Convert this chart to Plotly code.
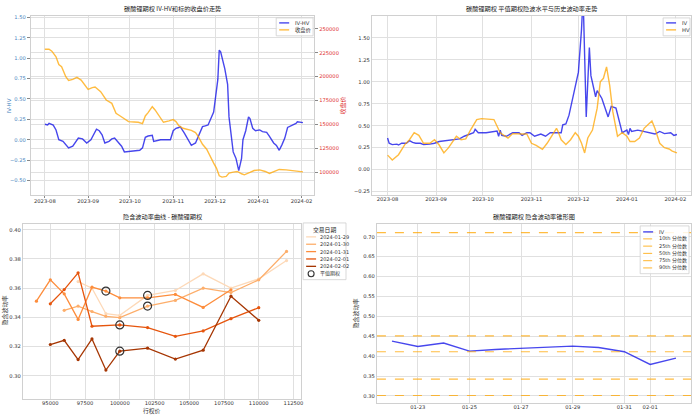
import plotly.graph_objects as go

# ---------------- data ----------------
# Top-left: IV-HV and close price
ivhv_dates = ["2023-08-01","2023-08-03","2023-08-04","2023-08-07","2023-08-09","2023-08-11","2023-08-14","2023-08-16",
              "2023-08-18","2023-08-21","2023-08-23","2023-08-25","2023-08-28","2023-08-31","2023-09-03","2023-09-05",
              "2023-09-07","2023-09-09","2023-09-11","2023-09-13","2023-09-16","2023-09-18","2023-09-20","2023-09-23",
              "2023-09-25","2023-09-27","2023-09-29","2023-10-04","2023-10-08","2023-10-10","2023-10-12","2023-10-14",
              "2023-10-17","2023-10-18","2023-10-20","2023-10-23","2023-10-26","2023-10-30","2023-11-01","2023-11-03",
              "2023-11-05","2023-11-06","2023-11-09","2023-11-11","2023-11-14","2023-11-17","2023-11-19","2023-11-22",
              "2023-11-24","2023-11-26","2023-11-30","2023-12-02","2023-12-03","2023-12-04","2023-12-05","2023-12-08",
              "2023-12-10","2023-12-11","2023-12-14","2023-12-16","2023-12-18","2023-12-20","2023-12-21","2023-12-23",
              "2023-12-25","2023-12-26","2023-12-28","2023-12-30","2024-01-02","2024-01-04","2024-01-07","2024-01-09",
              "2024-01-12","2024-01-14","2024-01-16","2024-01-18","2024-01-20","2024-01-22","2024-01-26","2024-01-28",
              "2024-01-29","2024-02-01","2024-02-02"]
ivhv_values = [0.19,0.18,0.20,0.18,0.12,0.00,-0.02,-0.06,
               -0.10,-0.08,-0.03,0.02,0.01,-0.04,0.00,0.06,
               0.13,0.11,0.06,-0.04,-0.02,0.01,0.02,-0.04,
               -0.08,-0.15,-0.145,-0.14,-0.13,-0.10,0.03,0.045,
               0.055,-0.02,-0.01,0.00,0.00,0.00,0.11,0.14,
               0.15,0.16,0.08,0.02,-0.07,-0.04,0.04,0.16,
               0.17,0.18,0.34,0.58,0.74,1.10,1.08,0.87,
               0.68,0.28,-0.15,-0.23,-0.38,-0.23,0.00,0.11,
               0.28,0.26,0.14,0.11,0.12,0.10,0.09,0.04,
               -0.04,-0.07,-0.13,-0.06,0.02,0.15,0.18,0.20,
               0.22,0.21,0.21]

close_dates = ["2023-08-01","2023-08-04","2023-08-06","2023-08-09","2023-08-11","2023-08-13","2023-08-16","2023-08-18",
               "2023-08-21","2023-08-24","2023-08-27","2023-08-29","2023-09-01","2023-09-04","2023-09-06","2023-09-10",
               "2023-09-12","2023-09-14","2023-09-18","2023-09-21","2023-09-24","2023-09-28","2023-09-30","2023-10-04",
               "2023-10-07","2023-10-10","2023-10-12","2023-10-14","2023-10-17","2023-10-19","2023-10-22","2023-10-25",
               "2023-10-29","2023-11-01","2023-11-03","2023-11-05","2023-11-08","2023-11-11","2023-11-14","2023-11-17",
               "2023-11-19","2023-11-22","2023-11-25","2023-11-30","2023-12-02","2023-12-04","2023-12-06","2023-12-09",
               "2023-12-11","2023-12-14","2023-12-17","2023-12-20","2023-12-22","2023-12-26","2023-12-29","2024-01-02",
               "2024-01-06","2024-01-09","2024-01-13","2024-01-16","2024-01-21","2024-01-26","2024-01-29","2024-02-01",
               "2024-02-02"]
close_values = [228700,228700,226600,220700,212700,210300,199900,196000,
                197100,199200,196400,192200,186600,188400,189100,184200,
                179700,175500,172000,161600,158800,154300,152900,152500,
                152200,150800,158800,162300,168500,165100,158100,152200,
                153600,155000,152900,148700,145900,145200,143800,141400,
                137200,129200,124000,109400,104200,96200,94800,95500,
                99000,100000,100700,98300,97200,99700,101700,102400,
                100700,98600,101400,102800,102400,101700,101400,100300,
                100300]

# Top-right: ATM IV and HV
iv_dates = ["2023-08-01","2023-08-02","2023-08-04","2023-08-07","2023-08-08","2023-08-10","2023-08-13","2023-08-15",
            "2023-08-17","2023-08-19","2023-08-22","2023-08-24","2023-08-28","2023-08-31","2023-09-03","2023-09-07",
            "2023-09-11","2023-09-16","2023-09-19","2023-09-22","2023-09-25","2023-09-26","2023-09-28","2023-10-03",
            "2023-10-07","2023-10-10","2023-10-11","2023-10-12","2023-10-13","2023-10-16","2023-10-20","2023-10-24",
            "2023-10-26","2023-10-29","2023-10-31","2023-11-03","2023-11-07","2023-11-10","2023-11-13","2023-11-16",
            "2023-11-20","2023-11-21","2023-11-23","2023-11-25","2023-11-28","2023-12-01","2023-12-03","2023-12-04",
            "2023-12-06","2023-12-08","2023-12-09","2023-12-12","2023-12-13","2023-12-16","2023-12-20","2023-12-22",
            "2023-12-25","2023-12-29","2024-01-01","2024-01-02","2024-01-03","2024-01-04","2024-01-08","2024-01-12",
            "2024-01-17","2024-01-19","2024-01-22","2024-01-25","2024-01-29","2024-01-31","2024-02-02"]
iv_values = [0.36,0.30,0.285,0.29,0.28,0.30,0.30,0.33,
             0.31,0.30,0.30,0.285,0.29,0.30,0.32,0.33,
             0.335,0.35,0.38,0.40,0.42,0.46,0.42,0.42,
             0.435,0.44,0.38,0.45,0.39,0.38,0.42,0.42,
             0.39,0.42,0.42,0.38,0.405,0.38,0.42,0.42,
             0.42,0.51,0.52,0.62,0.85,1.11,1.60,1.98,
             0.60,1.39,1.07,0.83,0.90,0.81,0.60,0.72,
             0.70,0.42,0.45,0.40,0.47,0.435,0.45,0.435,
             0.42,0.405,0.435,0.41,0.42,0.39,0.40]

hv_dates = ["2023-08-01","2023-08-04","2023-08-08","2023-08-12","2023-08-15","2023-08-18","2023-08-21","2023-08-24",
            "2023-08-28","2023-08-31","2023-09-03","2023-09-06","2023-09-09","2023-09-14","2023-09-17","2023-09-20",
            "2023-09-23","2023-09-27","2023-09-30","2023-10-08","2023-10-12","2023-10-15","2023-10-17","2023-10-20",
            "2023-10-23","2023-10-26","2023-10-29","2023-11-01","2023-11-04","2023-11-08","2023-11-11","2023-11-14",
            "2023-11-17","2023-11-18","2023-11-20","2023-11-23","2023-11-26","2023-11-29","2023-12-01","2023-12-03",
            "2023-12-05","2023-12-07","2023-12-10","2023-12-13","2023-12-15","2023-12-17","2023-12-19","2023-12-21",
            "2023-12-23","2023-12-26","2023-12-29","2024-01-01","2024-01-03","2024-01-06","2024-01-09","2024-01-12",
            "2024-01-17","2024-01-19","2024-01-22","2024-01-25","2024-01-28","2024-01-30","2024-02-02"]
hv_values = [0.165,0.11,0.17,0.285,0.34,0.42,0.39,0.30,
             0.30,0.34,0.28,0.19,0.25,0.38,0.34,0.35,
             0.45,0.57,0.58,0.57,0.42,0.38,0.36,0.41,
             0.405,0.405,0.405,0.30,0.275,0.23,0.30,0.38,
             0.47,0.435,0.34,0.285,0.34,0.42,0.38,0.30,
             0.19,0.36,0.45,0.70,1.00,1.04,1.17,0.96,
             0.66,0.38,0.42,0.38,0.32,0.32,0.36,0.47,
             0.555,0.465,0.30,0.25,0.235,0.21,0.19]

# Bottom-left: smile curves
trade_dates = ["2024-01-29", "2024-01-30", "2024-01-31", "2024-02-01", "2024-02-02"]
smile_strikes = [
    [97000, 98000, 99000, 100000, 102000, 104000, 106000, 108000, 110000, 112000],
    [96000, 97000, 98000, 99000, 100000, 102000, 104000, 106000, 108000, 110000, 112000],
    [94000, 95000, 96000, 97000, 98000, 99000, 100000, 102000, 104000, 106000, 108000],
    [95000, 96000, 97000, 98000, 100000, 102000, 104000, 106000, 108000, 110000],
    [95000, 96000, 97000, 98000, 99000, 100000, 102000, 104000, 106000, 108000, 110000],
]
smile_ivs = [
    [0.3645, 0.360, 0.3425, 0.3414, 0.355, 0.3584, 0.3698, 0.360, 0.3664, 0.3789],
    [0.3448, 0.3477, 0.344, 0.3407, 0.3398, 0.3477, 0.3516, 0.360, 0.357, 0.3657, 0.3852],
    [0.3511, 0.3657, 0.3561, 0.3386, 0.3607, 0.358, 0.3534, 0.3534, 0.3557, 0.3468, 0.3589],
    [0.3493, 0.359, 0.3705, 0.3339, 0.3348, 0.333, 0.327, 0.3307, 0.3391, 0.3466],
    [0.3214, 0.3243, 0.3111, 0.3252, 0.3039, 0.3168, 0.3189, 0.3114, 0.3175, 0.3545, 0.338],
]
atm_strikes = [102000, 102000, 99000, 100000, 100000]
atm_label = "平值期权"
smile_colors = ["#fdd9b8", "#fdae6b", "#fd8d3c", "#e6550d", "#a63603"]

# Bottom-right: IV cone
cone_dates = ["2024-01-22", "2024-01-23", "2024-01-24", "2024-01-25", "2024-01-26",
              "2024-01-29", "2024-01-30", "2024-01-31", "2024-02-01", "2024-02-02"]
cone_iv = [0.4375, 0.424, 0.433, 0.4125, 0.4167, 0.425, 0.4217, 0.411, 0.379, 0.395]
pct_labels = ["10th 分位数", "25th 分位数", "50th 分位数", "75th 分位数", "90th 分位数"]
pct_values = [0.301, 0.342, 0.411, 0.451, 0.710]

# ---------------- style ----------------
W, H = 700, 419
FONT = "DejaVu Sans, Noto Sans CJK SC"
CJK = "Noto Sans CJK SC"
TICK = dict(family=FONT, size=5.2, color="#333333")
GRID = "#e0e0e0"
FRAME = "#d0d0d0"
BLUE = "rgba(0,0,230,0.72)"
ORANGE = "rgba(255,165,0,0.75)"


def px(x):
    return x / W


def py(y):
    return 1 - y / H


def axis_common(**kw):
    d = dict(showgrid=True, gridcolor=GRID, gridwidth=1, showline=True, linecolor=FRAME,
             linewidth=1, mirror=True, zeroline=False, tickfont=TICK, ticks="")
    d.update(kw)
    return d


fig = go.Figure()

# ---- top-left ----
fig.add_trace(go.Scatter(x=ivhv_dates, y=ivhv_values, mode="lines", name="IV-HV",
                         line=dict(color=BLUE, width=1.4), xaxis="x", yaxis="y"))
fig.add_trace(go.Scatter(x=close_dates, y=close_values, mode="lines", name="收盘价",
                         line=dict(color=ORANGE, width=1.4), xaxis="x", yaxis="y2"))

# ---- top-right ----
fig.add_trace(go.Scatter(x=iv_dates, y=iv_values, mode="lines", name="IV",
                         line=dict(color=BLUE, width=1.4), xaxis="x3", yaxis="y3"))
fig.add_trace(go.Scatter(x=hv_dates, y=hv_values, mode="lines", name="HV",
                         line=dict(color=ORANGE, width=1.4), xaxis="x3", yaxis="y3"))

# ---- bottom-left ----
atm_x, atm_y = [], []
for d, ks, vs, c, a in zip(trade_dates, smile_strikes, smile_ivs, smile_colors, atm_strikes):
    fig.add_trace(go.Scatter(x=ks, y=vs, mode="lines+markers", name=d,
                             line=dict(color=c, width=1.3), marker=dict(color=c, size=3.2),
                             xaxis="x4", yaxis="y4"))
    atm_x.append(a)
    atm_y.append(vs[ks.index(a)])
fig.add_trace(go.Scatter(x=atm_x, y=atm_y, mode="markers", name=atm_label,
                         marker=dict(symbol="circle-open", size=8, color="#333333", line=dict(width=1.2)),
                         xaxis="x4", yaxis="y4"))

# ---- bottom-right ----
cone_range = ["2024-01-21 10:00", "2024-02-02 14:00"]
fig.add_trace(go.Scatter(x=cone_dates, y=cone_iv, mode="lines", name="IV",
                         line=dict(color=BLUE, width=1.4), xaxis="x5", yaxis="y5"))
for lab, v in zip(pct_labels, pct_values):
    fig.add_trace(go.Scatter(x=cone_range, y=[v, v], mode="lines", name=lab,
                             line=dict(color=ORANGE, width=1.2, dash="dash"),
                             xaxis="x5", yaxis="y5"))

# ---------------- layout ----------------
TL_X = [px(31), px(315)]
TR_X = [px(373), px(693)]
TOP_Y = [py(194), py(14)]
BL_X = [px(23), px(302)]
BR_X = [px(378), px(693)]
BL_Y = [py(399), py(223)]
BR_Y = [py(403), py(223)]

XSTAND = -1

fig.update_layout(
    width=W, height=H, margin=dict(l=0, r=0, t=0, b=0),
    paper_bgcolor="white", plot_bgcolor="white", showlegend=False,
    font=dict(family=FONT, size=6, color="#333333"),
    xaxis=axis_common(domain=TL_X, anchor="y", type="date", ticks="outside", ticklen=2, tickcolor="#888888",
                      range=["2023-07-22", "2024-02-10"], dtick="M1", tickformat="%Y-%m",
                      ticklabelstandoff=XSTAND),
    yaxis=axis_common(domain=TOP_Y, anchor="x", range=[-0.68, 1.52],
                      tickvals=[-0.5, -0.25, 0, 0.25, 0.5, 0.75, 1.0, 1.25, 1.5],
                      ticks="outside", ticklen=3, tickcolor="#888888",
                      tickformat=".2f", tickfont=dict(family=FONT, size=5.2, color="#4a86c0")),
    yaxis2=axis_common(overlaying="y", side="right", anchor="x", range=[76000, 263500],
                       ticks="outside", ticklen=3, tickcolor="#888888",
                       tickvals=[100000, 125000, 150000, 175000, 200000, 225000, 250000], tickformat="d",
                       tickfont=dict(family=FONT, size=5.2, color="#e03030"), showline=False),
    xaxis3=axis_common(domain=TR_X, anchor="y3", type="date",
                       range=["2023-07-22", "2024-02-11"], dtick="M1", tickformat="%Y-%m",
                       ticklabelstandoff=XSTAND),
    yaxis3=axis_common(domain=TOP_Y, anchor="x3", range=[-0.29, 1.75],
                       tickvals=[-0.25, 0, 0.25, 0.5, 0.75, 1.0, 1.25, 1.5], tickformat=".2f"),
    xaxis4=axis_common(domain=BL_X, anchor="y4", range=[93030, 113050],
                       tickvals=[95000, 97500, 100000, 102500, 105000, 107500, 110000, 112500], tickformat="d",
                       ticklabelstandoff=XSTAND),
    yaxis4=axis_common(domain=BL_Y, anchor="x4", range=[0.284, 0.404],
                       tickvals=[0.30, 0.32, 0.34, 0.36, 0.38, 0.40], tickformat=".2f"),
    xaxis5=axis_common(domain=BR_X, anchor="y5", type="date", range=cone_range,
                       tickvals=["2024-01-23", "2024-01-25", "2024-01-27", "2024-01-29", "2024-01-31", "2024-02-01"],
                       tickformat="%m-%d", ticklabelstandoff=XSTAND),
    yaxis5=axis_common(domain=BR_Y, anchor="x5", range=[0.282, 0.732],
                       tickvals=[0.30, 0.35, 0.40, 0.45, 0.50, 0.55, 0.60, 0.65, 0.70], tickformat=".2f"),
)

# titles
titles = [
    ("碳酸锂期权 IV-HV和标的收盘价走势", TL_X, TOP_Y),
    ("碳酸锂期权 平值期权隐波水平与历史波动率走势", TR_X, TOP_Y),
    ("隐含波动率曲线 - 碳酸锂期权", BL_X, BL_Y),
    ("碳酸锂期权 隐含波动率锥形图", BR_X, BR_Y),
]
for text, xd, yd in titles:
    fig.add_annotation(text=text, xref="paper", yref="paper", x=(xd[0] + xd[1]) / 2, y=yd[1],
                       xanchor="center", yanchor="bottom", showarrow=False, yshift=1,
                       font=dict(family=CJK, size=6.2, color="#222222"))

# axis titles
axis_titles = [
    ("IV-HV", 9, 104, -90, "#4a86c0", 5.5),
    ("收盘价", 343, 104, -90, "#e03030", 6),
    ("行权价", 152, 411, 0, "#333333", 5.8),
    ("隐含波动率", 5, 310, -90, "#333333", 6),
    ("隐含波动率", 357, 313, -90, "#333333", 6),
]
for text, x, y, ang, col, sz in axis_titles:
    fig.add_annotation(text=text, xref="paper", yref="paper", x=px(x), y=py(y), xanchor="center",
                       yanchor="middle", showarrow=False, textangle=ang,
                       font=dict(family=FONT, size=sz, color=col))


# custom compact legends
def legend_box(x0, y0, x1, y1):
    fig.add_shape(type="rect", xref="paper", yref="paper", x0=px(x0), x1=px(x1), y0=py(y1), y1=py(y0),
                  fillcolor="rgba(255,255,255,0.85)", line=dict(color="#cfcfcf", width=0.8), layer="above")


def legend_line(x0, x1, y, color, width=1.4, dash="solid"):
    fig.add_shape(type="line", xref="paper", yref="paper", x0=px(x0), x1=px(x1), y0=py(y), y1=py(y),
                  line=dict(color=color, width=width, dash=dash), layer="above")


def legend_text(x, y, text, size=5.3):
    fig.add_annotation(text=text, xref="paper", yref="paper", x=px(x), y=py(y), xanchor="left",
                       yanchor="middle", showarrow=False, font=dict(family=FONT, size=size, color="#333333"))


# TL legend
legend_box(277, 16, 314, 34)
for i, (name, col) in enumerate([("IV-HV", BLUE), ("收盘价", ORANGE)]):
    y = 21 + 7 * i
    legend_line(280, 290, y, col)
    legend_text(294, y, name)

# TR legend
legend_box(665, 16, 692, 34)
for i, (name, col) in enumerate([("IV", BLUE), ("HV", ORANGE)]):
    y = 21 + 7 * i
    legend_line(668, 678, y, col)
    legend_text(682, y, name)

# BL legend
legend_box(304, 222, 347, 279)
fig.add_annotation(text="交易日期", xref="paper", yref="paper", x=px(325.5), y=py(228.5), xanchor="center",
                   yanchor="middle", showarrow=False, font=dict(family=CJK, size=5.8, color="#222222"))
for i, (name, col) in enumerate(zip(trade_dates, smile_colors)):
    y = 236 + 7.4 * i
    legend_line(307, 317, y, col, width=1.3)
    legend_text(319, y, name, size=5.0)
yc = 236 + 7.4 * 5
fig.add_shape(type="circle", xref="paper", yref="paper", x0=px(309), x1=px(315), y0=py(yc + 3), y1=py(yc - 3),
              line=dict(color="#333333", width=1.1), layer="above")
legend_text(319, yc, atm_label, size=5.0)

# BR legend
legend_box(642, 225, 691, 273)
legend_line(645, 655, 231, BLUE)
legend_text(659, 231, "IV")
for i, name in enumerate(pct_labels):
    y = 238 + 7.3 * i
    legend_line(645, 655, y, ORANGE, width=1.1, dash="dash")
    legend_text(659, y, name, size=5.0)

fig.write_html("out.html", config={"displayModeBar": False},
               post_script="document.body.style.margin='0px';document.body.style.padding='0px';")
